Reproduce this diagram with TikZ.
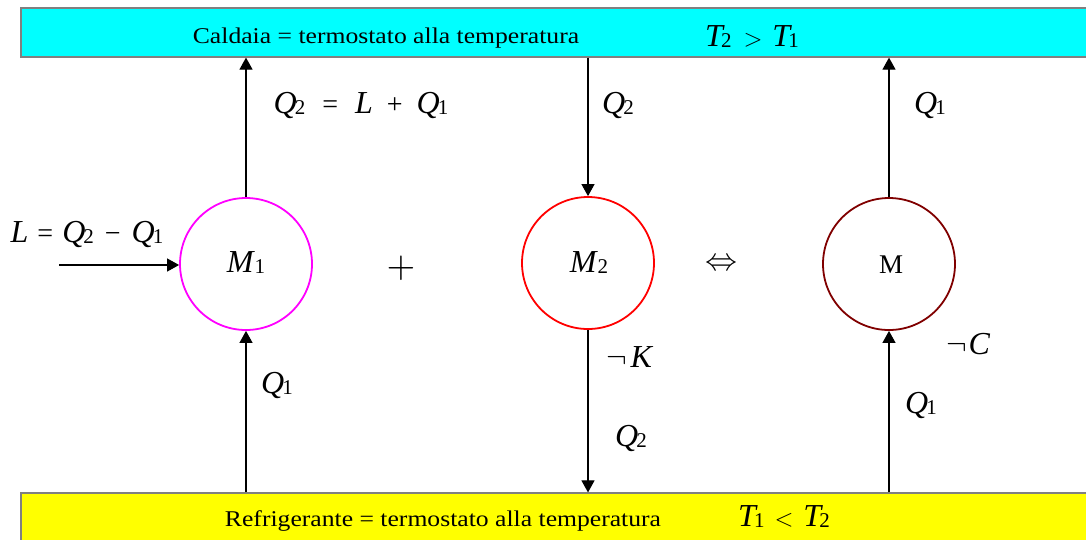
\documentclass[tikz,border=0pt]{standalone}
\usepackage{fontspec}
\usepackage{graphicx}
\setmainfont{Liberation Serif}
\usetikzlibrary{arrows.meta}
\newcommand{\mv}[1]{{\fontsize{32}{34}\selectfont\itshape #1}}
\newcommand{\sbs}[1]{\hspace{-2pt}\raisebox{-0.4ex}{\fontsize{21}{22}\selectfont #1}}
\newcommand{\rel}[1]{{\fontsize{28}{30}\selectfont #1}}
\newcommand{\wtext}[1]{\scalebox{1.14}[1]{\fontsize{22.5}{26}\selectfont #1}}
\newcommand{\bigsym}[2]{\scalebox{#1}{$#2$}}
\definecolor{barcyan}{HTML}{00FFFF}
\definecolor{baryellow}{HTML}{FFFF00}
\definecolor{pmagenta}{HTML}{FF00FF}
\definecolor{pred}{HTML}{FF0000}
\definecolor{darkred}{HTML}{800000}
\begin{document}
\begin{tikzpicture}[x=1pt,y=-1pt,
  bar/.style={draw=gray,line width=1.2pt,rectangle,inner sep=0,minimum width=1069pt,minimum height=49pt},
  machine/.style={circle,line width=1.8pt,minimum size=132pt,inner sep=0},
  flow/.style={line width=1.1pt,-{Triangle[length=12pt,width=13pt]}},
  lbl/.style={inner sep=0,anchor=base}]
\useasboundingbox (0,0) rectangle (1086,539);
% reservoirs
\node[bar,fill=barcyan] (top) at (555.5,32.5) {};
\node[bar,fill=baryellow] (bot) at (555.5,517.5) {};
\node[lbl] (ttxt) at (386,43) {\wtext{Caldaia = termostato alla temperatura}};
\node[lbl] (tT) at (752,46) {\mv{T}\sbs{2}\hspace{12pt}\rel{$>$}\hspace{10pt}\mv{T}\sbs{1}};
\node[lbl] (btxt) at (443,526) {\wtext{Refrigerante = termostato alla temperatura}};
\node[lbl] (bT) at (784,526) {\mv{T}\sbs{1}\hspace{10pt}\rel{$<$}\hspace{10pt}\mv{T}\sbs{2}};
% machines
\node[machine,draw=pmagenta] (m1) at (246,264) {};
\node[machine,draw=pred] (m2) at (588,263) {};
\node[machine,draw=darkred] (m) at (889,264) {};
\node[lbl] (m1l) at (246,272) {\mv{M}\hspace{3pt}\sbs{1}};
\node[lbl] (m2l) at (589,272) {\mv{M}\hspace{3pt}\sbs{2}};
\node[lbl] (ml) at (891,273) {\fontsize{27}{28}\selectfont M};
% connectors
\draw[flow] (m1.north) -- (m1.north |- top.south);
\draw[flow] (m1.south |- bot.north) -- (m1.south);
\coordinate (lin) at (59,265);
\draw[flow] (lin) -- (lin -| m1.west);
\draw[flow] (m2.north |- top.south) -- (m2.north);
\draw[flow] (m2.south) -- (m2.south |- bot.north);
\draw[flow] (m.north) -- (m.north |- top.south);
\draw[flow] (m.south |- bot.north) -- (m.south);
% labels
\node[lbl] (q2eq) at (361,113) {\mv{Q}\sbs{2}\hspace{17pt}\rel{=}\hspace{17pt}\mv{L}\hspace{14pt}\rel{+}\hspace{14pt}\mv{Q}\sbs{1}};
\node[lbl] (q2a) at (618,113) {\mv{Q}\sbs{2}};
\node[lbl] (q1a) at (930,113) {\mv{Q}\sbs{1}};
\node[lbl] (leq) at (87,242) {\mv{L}\hspace{9pt}\rel{=}\hspace{9pt}\mv{Q}\sbs{2}\hspace{11pt}\rel{−}\hspace{11pt}\mv{Q}\sbs{1}};
\node[inner sep=0] (plus) at (401,268) {\bigsym{3.7}{+}};
\node[inner sep=0] (iff) at (721,265) {\bigsym{3.2}{\Leftrightarrow}};
\node[lbl] (q1b) at (277,393) {\mv{Q}\sbs{1}};
\node[lbl] (nk) at (629,367) {\bigsym{3.1}{\neg}\hspace{4pt}\mv{K}};
\node[lbl] (q2b) at (631,446) {\mv{Q}\sbs{2}};
\node[lbl] (nc) at (968,354) {\bigsym{3.1}{\neg}\hspace{2pt}\mv{C}};
\node[lbl] (q1c) at (921,413) {\mv{Q}\sbs{1}};
\end{tikzpicture}
\end{document}
